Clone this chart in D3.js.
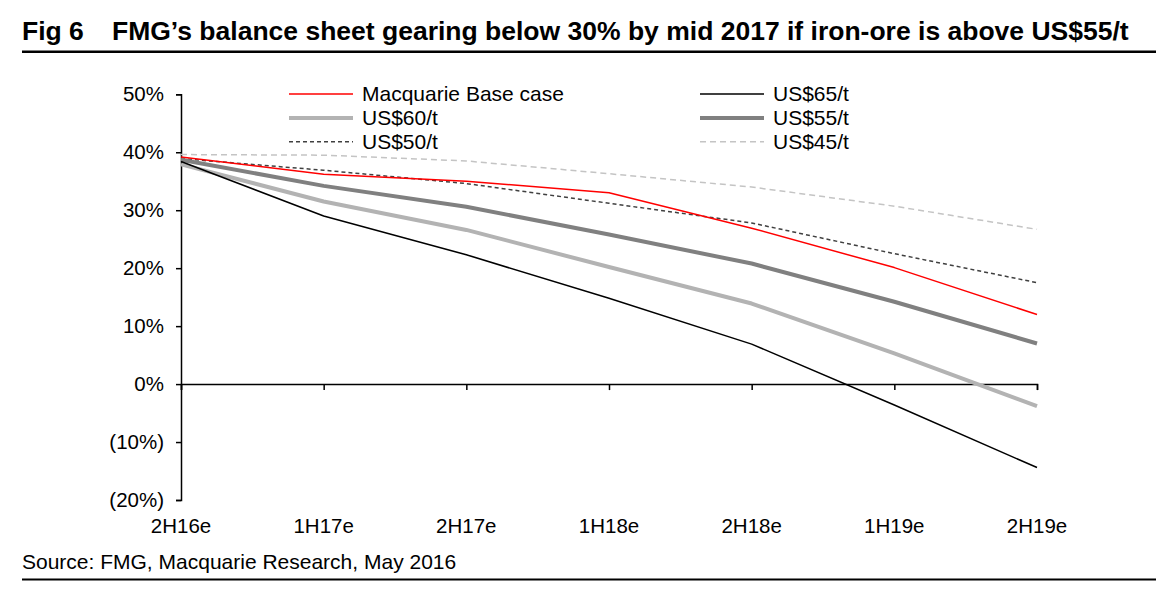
<!DOCTYPE html>
<html><head><meta charset="utf-8">
<script src="https://cdn.jsdelivr.net/npm/d3@7"></script>
<style>body{margin:0;background:#fff;} svg{display:block;font-family:"Liberation Sans",Arial,sans-serif;}</style>
</head><body>
<svg id="chart" width="1170" height="600"></svg>
<script>
const categories = ["2H16e","1H17e","2H17e","1H18e","2H18e","1H19e","2H19e"];
const yTicks = [-20,-10,0,10,20,30,40,50];
const seriesNames = ["Macquarie Base case","US$65/t","US$60/t","US$55/t","US$50/t","US$45/t"];
const baseCase = [39.2,36.2,35.0,33.0,26.9,20.1,12.0];
const us65 = [38.4,29.0,22.3,14.8,6.9,-3.6,-14.4];
const us60 = [37.9,31.5,26.6,20.2,13.9,5.3,-3.8];
const us55 = [38.7,34.2,30.6,25.8,20.8,14.2,7.0];
const us50 = [38.9,36.9,34.6,31.2,27.8,22.5,17.5];
const us45 = [39.6,39.5,38.5,36.3,34.0,30.7,26.7];

const svg = d3.select("#chart");
const x = d3.scalePoint().domain(categories).range([181,1037]);
const y = d3.scaleLinear().domain([-20,50]).range([500,94.3]);

// Title
svg.append("text").attr("x",22).attr("y",40).attr("font-weight","bold").attr("font-size",26.5).text("Fig 6");
svg.append("text").attr("x",112).attr("y",40).attr("font-weight","bold").attr("font-size",26.5)
  .text("FMG’s balance sheet gearing below 30% by mid 2017 if iron-ore is above US$55/t");
svg.append("line").attr("x1",22).attr("x2",1156).attr("y1",51.7).attr("y2",51.7).attr("stroke","#000").attr("stroke-width",2.5);

// Y axis
const yAxis = d3.axisLeft(y).tickValues(yTicks).tickSize(5).tickPadding(12)
  .tickFormat(d => d < 0 ? "(" + Math.abs(d) + "%)" : d + "%");
const ya = svg.append("g").attr("transform","translate(181,0)").call(yAxis);
ya.select(".domain").attr("stroke","#000").attr("stroke-width",1.5);
ya.selectAll(".tick line").attr("stroke","#000").attr("stroke-width",1.5);
ya.selectAll(".tick text").attr("font-size",20.5).attr("fill","#000").attr("font-family","Liberation Sans, Arial, sans-serif");

// X axis at 0%
const xAxis = d3.axisBottom(x).tickSize(6).tickFormat("");
const xa = svg.append("g").attr("transform",`translate(0,${y(0)})`).call(xAxis);
xa.select(".domain").attr("stroke","#000").attr("stroke-width",1.5);
xa.selectAll(".tick line").attr("stroke","#000").attr("stroke-width",1.5);
// X labels at bottom
svg.append("g").selectAll("text").data(categories).join("text")
  .attr("x",d=>x(d)).attr("y",533).attr("text-anchor","middle").attr("font-size",20.5).text(d=>d);

// Lines
const seriesData = [
  {name:"US$45/t", v:us45, color:"#c4c4c4", w:1.5, dash:"6,4"},
  {name:"US$50/t", v:us50, color:"#404040", w:1.5, dash:"4,3"},
  {name:"US$55/t", v:us55, color:"#808080", w:4, dash:null},
  {name:"US$60/t", v:us60, color:"#b3b3b3", w:4, dash:null},
  {name:"US$65/t", v:us65, color:"#000000", w:1.5, dash:null},
  {name:"Macquarie Base case", v:baseCase, color:"#ff0000", w:1.5, dash:null}
];
const line = d3.line().x((d,i)=>x(categories[i])).y(d=>y(d));
svg.append("g").selectAll("path").data(seriesData).join("path")
  .attr("d",d=>line(d.v)).attr("fill","none").attr("stroke",d=>d.color)
  .attr("stroke-width",d=>d.w).attr("stroke-dasharray",d=>d.dash).attr("stroke-linejoin","round");

// Legend
const style = Object.fromEntries(seriesData.map(s=>[s.name,s]));
const legendPos = [
  {name:"Macquarie Base case", lx:289, y:94},
  {name:"US$65/t", lx:700, y:94},
  {name:"US$60/t", lx:289, y:118},
  {name:"US$55/t", lx:700, y:118},
  {name:"US$50/t", lx:289, y:141.7},
  {name:"US$45/t", lx:700, y:141.7}
];
const lg = svg.append("g").selectAll("g").data(legendPos).join("g");
lg.append("line").attr("x1",d=>d.lx).attr("x2",d=>d.lx+64).attr("y1",d=>d.y).attr("y2",d=>d.y)
  .attr("stroke",d=>style[d.name].color).attr("stroke-width",d=>style[d.name].w)
  .attr("stroke-dasharray",d=>style[d.name].dash);
lg.append("text").attr("x",d=>d.lx+73).attr("y",d=>d.y+7).attr("font-size",21).text(d=>d.name);

// Source
svg.append("text").attr("x",22).attr("y",569).attr("font-size",21).text("Source: FMG, Macquarie Research, May 2016");
svg.append("line").attr("x1",22).attr("x2",1156).attr("y1",579.5).attr("y2",579.5).attr("stroke","#000").attr("stroke-width",2);
</script>
</body></html>
